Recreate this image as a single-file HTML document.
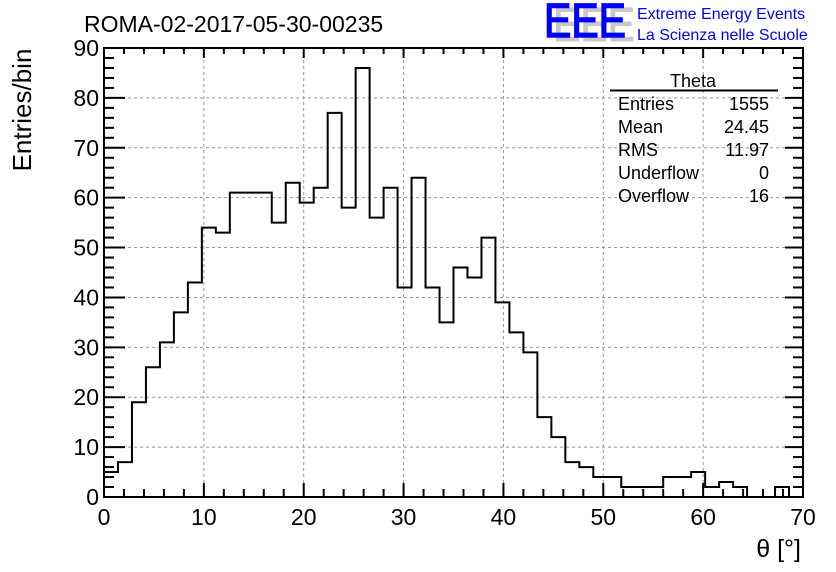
<!DOCTYPE html>
<html><head><meta charset="utf-8">
<style>
html,body{margin:0;padding:0;background:#fff;}
svg{display:block;font-family:"Liberation Sans",sans-serif;}
</style></head>
<body>
<svg id="chart" width="836" height="572" viewBox="0 0 836 572">
<rect x="0" y="0" width="836" height="572" fill="#fff"/>
<g id="grid"></g>
<g id="hist"></g>
<g id="axes"></g>
<text x="84" y="32" font-size="23" fill="#000">ROMA-02-2017-05-30-00235</text>
<g>
<text x="553" y="41" font-size="48" fill="#c8c8c8" stroke="#c8c8c8" stroke-width="1" textLength="82" lengthAdjust="spacingAndGlyphs">EEE</text>
<text x="544" y="37" font-size="48" fill="#0000ff" stroke="#0000ff" stroke-width="1.5" textLength="82" lengthAdjust="spacingAndGlyphs">EEE</text>
<text x="637" y="19" font-size="16" fill="#0000ff">Extreme Energy Events</text>
<text x="637" y="40" font-size="16" fill="#0000ff">La Scienza nelle Scuole</text>
</g>
<g font-size="18" fill="#000">
<text x="693" y="87" text-anchor="middle">Theta</text>
<line x1="610" y1="90.5" x2="778" y2="90.5" stroke="#000" stroke-width="2"/>
<text x="618" y="110">Entries</text><text x="769" y="110" text-anchor="end">1555</text>
<text x="618" y="133">Mean</text><text x="769" y="133" text-anchor="end">24.45</text>
<text x="618" y="156">RMS</text><text x="769" y="156" text-anchor="end">11.97</text>
<text x="618" y="179">Underflow</text><text x="769" y="179" text-anchor="end">0</text>
<text x="618" y="202">Overflow</text><text x="769" y="202" text-anchor="end">16</text>
</g>
<text transform="translate(31,110) rotate(-90)" text-anchor="middle" font-size="26">Entries/bin</text>
<text x="801" y="557" text-anchor="end" font-size="25">θ [°]</text>
</svg>
<script>
const counts=[5,7,19,26,31,37,43,54,53,61,61,61,55,63,59,62,77,58,86,56,62,42,64,42,35,46,44,52,39,33,29,16,12,7,6,4,4,2,2,2,4,4,5,2,3,2,0,0,2,0];
const binWidth=1.4;
const xTicks=[0,10,20,30,40,50,60,70];
const yTicks=[0,10,20,30,40,50,60,70,80,90];
const L=104,R=803,T=48,B=497,XMAX=70,YMAX=90;
const NS="http://www.w3.org/2000/svg";
function xs(v){return L+(R-L)*v/XMAX;}
function ys(v){return B-(B-T)*v/YMAX;}
function mk(tag,attrs,parent){const e=document.createElementNS(NS,tag);for(const k in attrs)e.setAttribute(k,attrs[k]);parent.appendChild(e);return e;}
const grid=document.getElementById('grid'),axes=document.getElementById('axes'),hist=document.getElementById('hist');
xTicks.forEach(v=>{if(v>0&&v<XMAX){const g=mk('line',{x1:xs(v),y1:T,x2:xs(v),y2:B,stroke:'#999','stroke-width':1,'stroke-dasharray':'3,3'},grid);

}});
yTicks.forEach(v=>{if(v>0&&v<YMAX){const g=mk('line',{x1:L,y1:ys(v),x2:R,y2:ys(v),stroke:'#999','stroke-width':1,'stroke-dasharray':'3,3'},grid);

}});
let d='M'+xs(0)+','+ys(0);
counts.forEach((c,i)=>{d+=' L'+xs(i*binWidth)+','+ys(c)+' L'+xs((i+1)*binWidth)+','+ys(c);});
d+=' L'+xs(counts.length*binWidth)+','+ys(0);
const p=mk('path',{d:d,fill:'none',stroke:'#000','stroke-width':2},hist);


const fr=mk('rect',{x:L,y:T,width:R-L,height:B-T,fill:'none',stroke:'#000','stroke-width':2},axes);


for(let v=0;v<=XMAX;v+=2){const maj=v%10===0;
mk('line',{x1:xs(v),y1:B,x2:xs(v),y2:B-(maj?14:8),stroke:'#000','stroke-width':2},axes);
mk('line',{x1:xs(v),y1:T,x2:xs(v),y2:T+(maj?10:6),stroke:'#000','stroke-width':2},axes);}
for(let v=0;v<=YMAX;v+=2){const maj=v%10===0;
mk('line',{x1:L,y1:ys(v),x2:L+(maj?21:10),y2:ys(v),stroke:'#000','stroke-width':2},axes);
mk('line',{x1:R,y1:ys(v),x2:R-(maj?18:10),y2:ys(v),stroke:'#000','stroke-width':2},axes);}
xTicks.forEach(v=>{const t=mk('text',{x:xs(v),y:B+28,'text-anchor':'middle','font-size':23},axes);t.textContent=v;

});
yTicks.forEach(v=>{const t=mk('text',{x:L-5,y:ys(v)+8,'text-anchor':'end','font-size':23},axes);t.textContent=v;

});
</script>
</body></html>
